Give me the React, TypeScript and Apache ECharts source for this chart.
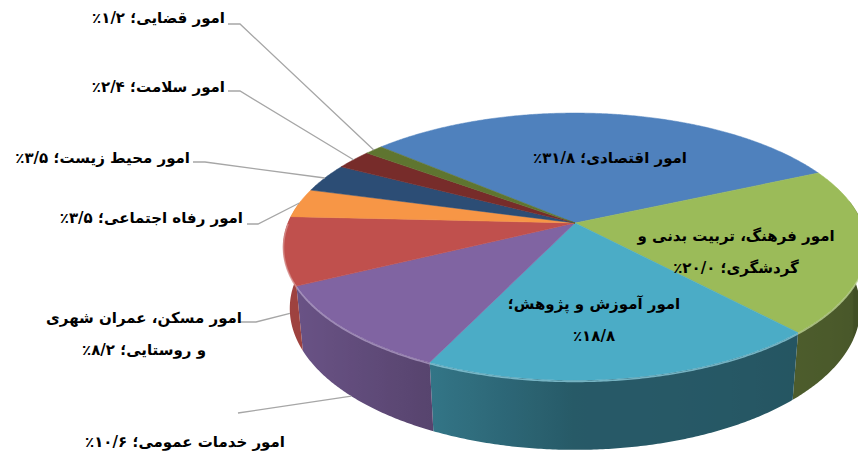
import React, { useEffect, useRef } from 'react';
import * as echarts from 'echarts';

// ---- data ----
const categories = [
  'امور اقتصادی',
  'امور فرهنگ، تربیت بدنی و\nگردشگری',
  'امور آموزش و پژوهش',
  'امور خدمات عمومی',
  'امور مسکن، عمران شهری\nو روستایی',
  'امور رفاه اجتماعی',
  'امور محیط زیست',
  'امور سلامت',
  'امور قضایی',
];
const values = [31.8, 20.0, 18.8, 10.6, 8.2, 3.5, 3.5, 2.4, 1.2];
const valueOnOwnLine = [false, false, true, false, false, false, false, false, false];

// ---- styles / layout ----
const colors = ['#4F81BD', '#9BBB59', '#4BACC6', '#8064A2', '#C0504D', '#F79646', '#2C4D75', '#772C2A', '#5F7530'];
const labelLayout: any[] = [
  { x: 610, y: 158, align: 'center' },
  { x: 736, y: 252, align: 'center' },
  { x: 594, y: 320, align: 'center' },
  { x: 185, y: 442, align: 'center', line: [[238, 413]], level: 1 },
  { x: 144, y: 334, align: 'center', line: [[240, 322], [256, 322]], level: 1 },
  { x: 243, y: 218, align: 'right', line: [[247, 224], [258, 224]], level: 0 },
  { x: 190, y: 158, align: 'right', line: [[193, 162], [205, 162]], level: 0 },
  { x: 225, y: 87, align: 'right', line: [[228, 91], [240, 91]], level: 0 },
  { x: 225, y: 18, align: 'right', line: [[228, 24], [240, 24]], level: 0 },
];
const START_ANGLE = -49; // clockwise from 12 o'clock
const CX = 575, CY = 223, FOCAL = 1448, DIST = 5.045, TILT = (26.8 * Math.PI) / 180, THICK = 0.243;
const WALL_FROM = 80, WALL_TO = 280;

function proj(phiDeg: number, t: number): number[] {
  const p = (phiDeg * Math.PI) / 180;
  const X = Math.sin(p), Z = -Math.cos(p);
  const s = Math.sin(TILT), c = Math.cos(TILT);
  const depth = DIST - Z * c + t * s;
  return [CX + (FOCAL * X) / depth, CY + (FOCAL * (Z * s + t * c)) / depth];
}
function hexRgb(h: string) {
  const n = parseInt(h.slice(1), 16);
  return [(n >> 16) & 255, (n >> 8) & 255, n & 255];
}
function shade(h: string, f: number) {
  const [r, g, b] = hexRgb(h);
  return `rgb(${Math.round(r * f)},${Math.round(g * f)},${Math.round(b * f)})`;
}
function lighten(h: string, f: number) {
  const [r, g, b] = hexRgb(h);
  return `rgb(${Math.round(r + (255 - r) * f)},${Math.round(g + (255 - g) * f)},${Math.round(b + (255 - b) * f)})`;
}
function wallFactor(phi: number) {
  const p = (phi * Math.PI) / 180;
  return 0.42 + 0.4 * Math.max(0, -Math.sin(p)) + 0.1 * Math.max(0, -Math.cos(p));
}
const FA = '۰۱۲۳۴۵۶۷۸۹';
function fa(s: string) {
  return s.replace(/[0-9]/g, (d) => FA[+d]);
}

export default function App() {
  const ref = useRef<HTMLDivElement>(null);
  useEffect(() => {
    if (!ref.current) return;
    const chart = echarts.init(ref.current, null, { renderer: 'svg' });
    const total = values.reduce((a, b) => a + b, 0);
    const starts: number[] = [];
    let acc = START_ANGLE;
    values.forEach((v) => {
      starts.push(acc);
      acc += (v / total) * 360;
    });
    const labels = categories.map((name, i) => {
      const pct = fa(values[i].toFixed(1).replace('.', '/')) + '٪';
      const full = name + '؛' + (valueOnOwnLine[i] ? '\n\u061C' : ' ') + pct;
      return full
        .split('\n')
        .map((l) => '\u202B' + l + '\u202C')
        .join('\n');
    });
    const data = values.map((v, i) => ({ value: [v], name: categories[i] }));

    const wallRender = (params: any, api: any) => {
      const i = params.dataIndex;
      const a0 = starts[i];
      const a1 = a0 + (api.value(0) / total) * 360;
      const w0 = Math.max(a0, WALL_FROM), w1 = Math.min(a1, WALL_TO);
      if (w1 <= w0) return { type: 'group', children: [] };
      const n = Math.max(2, Math.ceil((w1 - w0) / 0.5));
      const topPts: number[][] = [], botPts: number[][] = [], samples: any[] = [];
      for (let k = 0; k <= n; k++) {
        const a = w0 + ((w1 - w0) * k) / n;
        const tp = proj(a, 0);
        topPts.push(tp);
        botPts.push(proj(a, THICK));
        samples.push({ x: tp[0], c: shade(colors[i], wallFactor(a)) });
      }
      const pts = topPts.concat(botPts.reverse());
      let minX = Infinity, maxX = -Infinity;
      pts.forEach((p) => {
        minX = Math.min(minX, p[0]);
        maxX = Math.max(maxX, p[0]);
      });
      samples.sort((p, q) => p.x - q.x);
      const step = Math.max(1, Math.floor(samples.length / 24));
      const stops: any[] = [];
      for (let k = 0; k < samples.length; k += step) {
        stops.push({ offset: Math.min(1, Math.max(0, (samples[k].x - minX) / (maxX - minX))), color: samples[k].c });
      }
      const last = samples[samples.length - 1];
      stops.push({ offset: 1, color: last.c });
      stops.unshift({ offset: 0, color: samples[0].c });
      return {
        type: 'polygon',
        shape: { points: pts },
        style: {
          fill: { type: 'linear', x: 0, y: 0, x2: 1, y2: 0, colorStops: stops },
        },
      };
    };

    const topRender = (params: any, api: any) => {
      const i = params.dataIndex;
      const a0 = starts[i];
      const a1 = a0 + (api.value(0) / total) * 360;
      const pts: number[][] = [[CX, CY]];
      const n = Math.max(2, Math.ceil((a1 - a0) / 0.5));
      for (let k = 0; k <= n; k++) pts.push(proj(a0 + ((a1 - a0) * k) / n, 0));
      const children: any[] = [
        {
          type: 'polygon',
          z2: 1,
          shape: { points: pts },
          style: { fill: colors[i], stroke: colors[i], lineWidth: 0.5 },
        },
      ];
      const r0 = Math.max(a0, 90), r1 = Math.min(a1, 270);
      if (r1 > r0) {
        const rim: number[][] = [];
        const m = Math.ceil((r1 - r0) / 0.5);
        for (let k = 0; k <= m; k++) rim.push(proj(r0 + ((r1 - r0) * k) / m, 0.004));
        children.push({
          type: 'polyline',
          z2: 2,
          shape: { points: rim },
          style: { stroke: lighten(colors[i], 0.35), lineWidth: 1.6, fill: 'none', opacity: 0.8 },
        });
      }
      const L = labelLayout[i];
      if (L.line) {
        const mid = (a0 + a1) / 2;
        const end = proj(mid, L.level ? THICK : 0);
        children.push({
          type: 'polyline',
          z2: 10,
          shape: { points: [...L.line, end] },
          style: { stroke: '#A6A6A6', lineWidth: 1.3, fill: 'none' },
        });
      }
      children.push({
        type: 'text',
        z2: 20,
        x: L.x,
        y: L.y,
        style: {
          text: labels[i],
          fill: '#000',
          fontSize: 15,
          fontWeight: 'bold',
          fontFamily: 'DejaVu Sans',
          align: L.align,
          verticalAlign: 'middle',
          lineHeight: 32,
        },
      });
      return { type: 'group', children };
    };

    chart.setOption({
      animation: false,
      backgroundColor: '#ffffff',
      series: [
        { type: 'custom', coordinateSystem: 'none', z: 2, data, renderItem: wallRender, silent: true },
        { type: 'custom', coordinateSystem: 'none', z: 3, data, renderItem: topRender, silent: true },
      ],
    });
    return () => chart.dispose();
  }, []);
  return (
    <div
      ref={ref}
      style={{ position: 'fixed', left: 0, top: 0, width: 858, height: 454 }}
    />
  );
}
